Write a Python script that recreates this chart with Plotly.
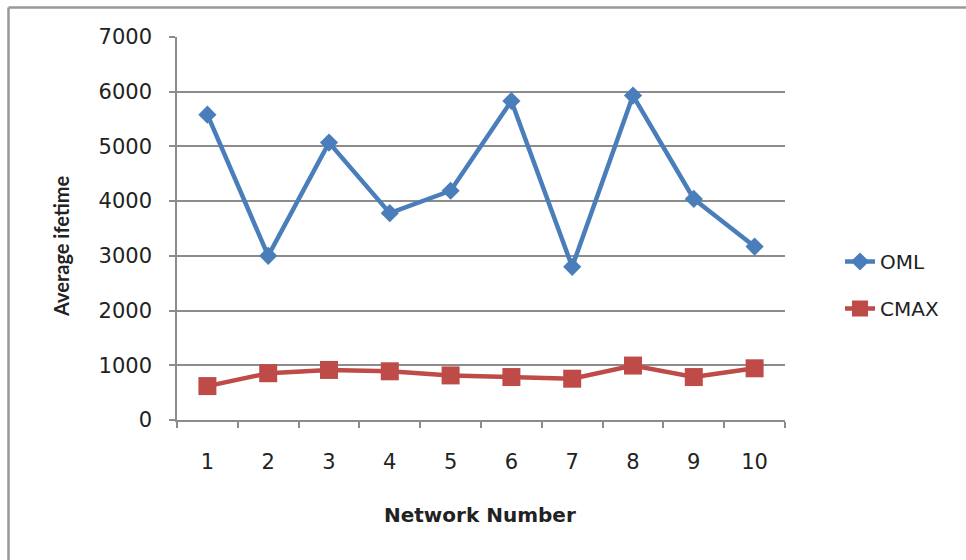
import plotly.graph_objects as go

# Average lifetime per network for the two algorithms
networks = ["1", "2", "3", "4", "5", "6", "7", "8", "9", "10"]
oml = [5580, 3000, 5070, 3780, 4190, 5830, 2800, 5930, 4040, 3170]
cmax = [620, 855, 915, 890, 815, 785, 755, 995, 785, 945]
y_ticks = [0, 1000, 2000, 3000, 4000, 5000, 6000, 7000]

FONT = "DejaVu Sans"
GRID = "#8c8c8c"

fig = go.Figure()
fig.add_trace(go.Scatter(
    x=networks, y=oml, name="OML", mode="lines+markers",
    line=dict(color="#4a7ebb", width=4.5),
    marker=dict(symbol="diamond", size=14, color="#4a7ebb"),
    legendgroup="a",
))
fig.add_trace(go.Scatter(
    x=networks, y=cmax, name="CMAX", mode="lines+markers",
    line=dict(color="#be4b48", width=4.5),
    marker=dict(symbol="square", size=18, color="#be4b48"),
    legendgroup="b",
))

# plot area in pixels: left 177, right 785, top 37, bottom 420
L, R, T, B = 177, 785, 37, 420
W, H = 966, 560
pw, ph = R - L, B - T


def px(x):
    return (x - L) / pw


def py(y):
    return (B - y) / ph


fig.update_layout(
    width=W, height=H,
    margin=dict(l=L, r=W - R, t=T, b=H - B),
    paper_bgcolor="white", plot_bgcolor="white",
    font=dict(family=FONT, size=21, color="#222"),
    showlegend=True,
    legend=dict(
        x=px(840), y=py(242), xanchor="left", yanchor="top",
        font=dict(family=FONT, size=20, color="#222"),
        tracegroupgap=18, traceorder="grouped",
        bgcolor="rgba(0,0,0,0)",
    ),
    xaxis=dict(
        type="category", tickson="boundaries",
        range=[-0.5, 9.5],
        showline=True, linecolor=GRID, linewidth=1.5,
        ticks="outside", ticklen=6, tickcolor=GRID, tickwidth=1.5,
        showgrid=False, zeroline=False,
        tickfont=dict(family=FONT, size=21, color="#222"),
        ticklabelstandoff=22,
    ),
    yaxis=dict(
        range=[0, 7000], tickvals=y_ticks,
        showline=True, linecolor=GRID, linewidth=1.5,
        ticks="outside", ticklen=6, tickcolor=GRID, tickwidth=1.5,
        showgrid=True, gridcolor=GRID, gridwidth=1.5,
        zeroline=False,
        tickfont=dict(family=FONT, size=21, color="#222"),
        ticklabelstandoff=13,
    ),
    annotations=[
        dict(text="<b>Average ifetime</b>", textangle=-90,
             xref="paper", yref="paper", x=px(61), y=py(246),
             xanchor="center", yanchor="middle", showarrow=False,
             font=dict(family="Lato", size=20, color="#222")),
        dict(text="<b>Network Number</b>",
             xref="paper", yref="paper", x=px(480), y=py(515),
             xanchor="center", yanchor="middle", showarrow=False,
             font=dict(family=FONT, size=20, color="#222")),
    ],
    shapes=[
        dict(type="line", xref="paper", yref="paper",
             x0=px(8.5), x1=px(966), y0=py(7.5), y1=py(7.5),
             line=dict(color="#999999", width=2.5)),
        dict(type="line", xref="paper", yref="paper",
             x0=px(8.5), x1=px(8.5), y0=py(7.5), y1=py(560),
             line=dict(color="#999999", width=2.5)),
    ],
)

fig.write_html("out.html")
